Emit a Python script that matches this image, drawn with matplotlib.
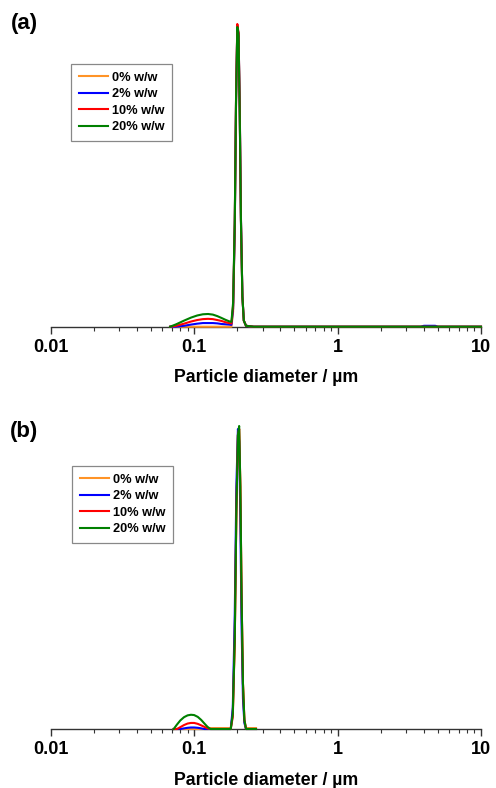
import matplotlib
matplotlib.use("Agg")
import matplotlib.pyplot as plt
from matplotlib.ticker import LogLocator, NullFormatter, FixedLocator, FixedFormatter

plt.rcParams['font.family'] = ['Liberation Sans', 'DejaVu Sans']
plt.rcParams['font.weight'] = 'bold'

labels = ['0% w/w', '2% w/w', '10% w/w', '20% w/w']
colors = ['#FF9326', '#0000FF', '#FF0000', '#008000']

# panel (a): diameter (um) and volume-type distribution (peak = 100)
d_a = [0.068, 0.075, 0.085, 0.095, 0.105, 0.115, 0.125, 0.135, 0.145, 0.155,
       0.165, 0.175, 0.182, 0.187, 0.192, 0.196, 0.200, 0.204, 0.208, 0.212,
       0.217, 0.222, 0.23, 0.26, 3.8, 4.0, 4.8, 5.0, 10]
a_0 = [0, 0, 0, 0, 0, 0, 0, 0, 0, 0,
       0, 0, 0, 5, 33, 75, 99, 97, 72, 36,
       10, 2, 0.3, 0, 0, 0, 0, 0, 0]
a_2 = [0, 0, 0.3, 0.7, 1.0, 1.2, 1.2, 1.2, 1.1, 0.9,
       0.8, 0.7, 0.6, 6, 33, 75, 99, 97, 72, 36,
       10, 2, 0.3, 0, 0, 0.3, 0.3, 0, 0]
a_10 = [0, 0.3, 1.0, 1.7, 2.2, 2.5, 2.6, 2.5, 2.2, 1.9,
        1.5, 1.2, 1.1, 7, 34, 76, 100, 97, 71, 35,
        10, 2, 0.3, 0, 0, 0, 0, 0, 0]
a_20 = [0, 0.8, 2.0, 3.0, 3.7, 4.1, 4.2, 4.0, 3.5, 2.9,
        2.3, 1.8, 1.6, 8, 35, 75, 99, 96, 70, 35,
        10, 2, 0.3, 0, 0, 0, 0, 0, 0]

# panel (b)
d_b = [0.072, 0.076, 0.080, 0.085, 0.090, 0.095, 0.100, 0.106, 0.112, 0.118,
       0.124, 0.130, 0.14, 0.16, 0.18, 0.186, 0.192, 0.197, 0.202, 0.206,
       0.210, 0.214, 0.219, 0.224, 0.230, 0.24, 0.27]
b_0 = [0, 0, 0, 0, 0, 0, 0, 0, 0, 0,
       0, 0.3, 0.3, 0.3, 0.3, 5, 30, 72, 97, 99,
       80, 45, 15, 3, 0.3, 0.3, 0.3]
b_2 = [0, 0, 0, 0.2, 0.4, 0.5, 0.5, 0.4, 0.2, 0,
       0, 0, 0, 0, 0, 7, 38, 80, 99, 95,
       70, 35, 10, 2, 0, 0, 0]
b_10 = [0, 0, 0.6, 1.3, 1.8, 2.0, 2.0, 1.7, 1.2, 0.7,
        0.2, 0, 0, 0, 0, 4, 29, 72, 97, 99,
        80, 45, 15, 3, 0, 0, 0]
b_20 = [0, 1.5, 2.8, 3.9, 4.5, 4.7, 4.6, 4.0, 3.0, 1.8,
        0.7, 0, 0, 0, 0, 5, 30, 72, 97, 100,
        80, 45, 15, 3, 0, 0, 0]

major_ticks = [0.01, 0.1, 1, 10]
major_labels = ['0.01', '0.1', '1', '10']

fig = plt.figure(figsize=(4.96, 7.88), dpi=100)


def draw_panel(rect, d, series, tag, tag_xy, leg_xy):
    ax = fig.add_axes(rect)
    for y, c, lab in zip(series, colors, labels):
        ax.plot(d, y, color=c, lw=1.5, label=lab, clip_on=False, zorder=3)
    ax.set_xscale('log')
    ax.set_xlim(0.01, 10)
    ax.set_ylim(0, 100)
    for s in ['top', 'left', 'right']:
        ax.spines[s].set_visible(False)
    ax.spines['bottom'].set_color('#333333')
    ax.spines['bottom'].set_linewidth(1.0)
    ax.set_yticks([])
    ax.xaxis.set_major_locator(FixedLocator(major_ticks))
    ax.xaxis.set_major_formatter(FixedFormatter(major_labels))
    ax.xaxis.set_minor_locator(LogLocator(base=10, subs=range(2, 10)))
    ax.xaxis.set_minor_formatter(NullFormatter())
    ax.tick_params(axis='x', which='major', direction='out', length=5, width=1.0,
                   color='#333333', labelsize=13, pad=4)
    ax.tick_params(axis='x', which='minor', direction='out', length=3, width=0.8,
                   color='#333333')
    for t in ax.get_xticklabels():
        t.set_fontweight('bold')
    ax.set_xlabel('Particle diameter / \u00b5m', fontsize=12.8, fontweight='bold', labelpad=9.5)
    ax.patch.set_visible(False)
    fig.text(tag_xy[0], tag_xy[1], tag, fontsize=16, fontweight='bold',
             ha='left', va='center')
    leg = ax.legend(loc='upper left', bbox_to_anchor=leg_xy,
                    bbox_transform=fig.transFigure, borderaxespad=0,
                    prop={'size': 9.2, 'weight': 'bold'}, handlelength=2.3,
                    handletextpad=0.3, labelspacing=0.36, borderpad=0.6,
                    fancybox=False, framealpha=1, edgecolor='#888888')
    leg.get_frame().set_linewidth(0.9)
    return ax


W, H = 496.0, 788.0
ax_w = (481 - 50.7) / W
draw_panel([50.7 / W, (H - 326.7) / H, ax_w, 302.7 / H], d_a,
           [a_0, a_2, a_10, a_20], '(a)', (11 / W, 1 - 23 / H), (71 / W, 1 - 64 / H))
draw_panel([50.7 / W, (H - 729) / H, ax_w, 303 / H], d_b,
           [b_0, b_2, b_10, b_20], '(b)', (10 / W, 1 - 432 / H), (72 / W, 1 - 466 / H))

fig.savefig('out.png', dpi=100)
